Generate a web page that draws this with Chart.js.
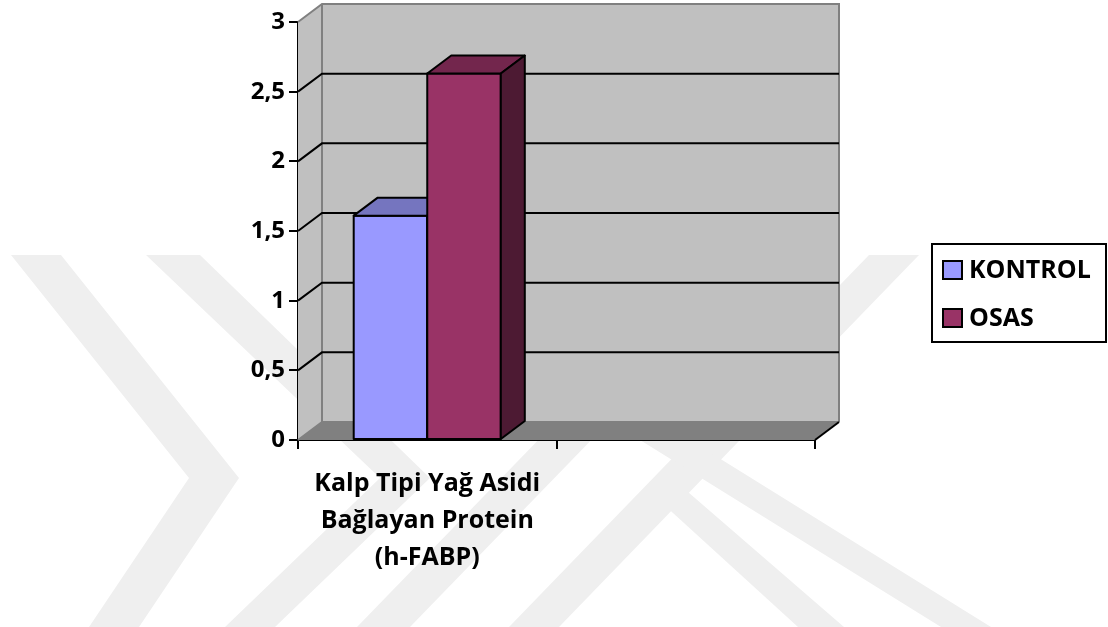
<!DOCTYPE html>
<html>
<head>
<meta charset="utf-8">
<script src="https://cdn.jsdelivr.net/npm/chart.js@4.4.1/dist/chart.umd.min.js"></script>
<style>
  html, body { margin: 0; padding: 0; background: #ffffff; }
  #wrap { width: 1108px; height: 627px; position: relative; }
  canvas { display: block; }
</style>
</head>
<body>
<div id="wrap"><canvas id="chart" width="1108" height="627"></canvas></div>
<script>
// Categories (second slot is an empty category on the axis)
const categories = [['Kalp Tipi Yağ Asidi', 'Bağlayan Protein', '(h-FABP)'], ''];
const seriesNames = ['KONTROL', 'OSAS'];
const kontrolValues = [1.61, null];
const osasValues = [2.63, null];
const yTickValues = [0, 0.5, 1, 1.5, 2, 2.5, 3];

const FONT = '"Open Sans", "Noto Sans", sans-serif';
const DEPTH = { dx: 24, dy: -18 };

// Faint background emblem made of diagonal bands
const emblem = {
  id: 'emblem',
  beforeDraw(chart) {
    const ctx = chart.ctx;
    const bands = [
      [[11,255],[61,255],[239,478],[139,627],[89,627],[189,478]],
      [[146,255],[200,255],[430,478],[275,627],[225,627],[380,478]],
      [[357,627],[410,627],[790,235],[737,235]],
      [[509,627],[559,627],[919,255],[869,255]],
      [[640,440],[690,440],[991,627],[941,627]],
      [[650,492],[688,492],[844,627],[798,627]]
    ];
    ctx.save();
    ctx.fillStyle = '#efefef';
    bands.forEach(b => {
      ctx.beginPath();
      b.forEach((p, i) => i ? ctx.lineTo(p[0], p[1]) : ctx.moveTo(p[0], p[1]));
      ctx.closePath();
      ctx.fill();
    });
    ctx.restore();
  }
};

function poly(ctx, pts) {
  ctx.beginPath();
  pts.forEach((p, i) => i ? ctx.lineTo(p[0], p[1]) : ctx.moveTo(p[0], p[1]));
  ctx.closePath();
}

// Side wall, back wall, floor, gridlines and the 3D faces of the bars
const frame3d = {
  id: 'frame3d',
  beforeDatasetsDraw(chart) {
    const { ctx, chartArea: { left, right, top, bottom }, scales: { y } } = chart;
    const { dx, dy } = DEPTH;
    ctx.save();
    ctx.fillStyle = '#c0c0c0';
    poly(ctx, [[left, bottom], [left + dx, bottom + dy], [left + dx, top + dy], [left, top]]);
    ctx.fill();
    ctx.fillRect(left + dx, top + dy, right - left, bottom - top);
    ctx.fillStyle = '#808080';
    poly(ctx, [[left, bottom], [right, bottom], [right + dx, bottom + dy], [left + dx, bottom + dy]]);
    ctx.fill();

    // frame edges
    ctx.strokeStyle = '#808080';
    ctx.lineWidth = 2;
    ctx.beginPath();
    ctx.moveTo(left, top); ctx.lineTo(left + dx, top + dy);
    ctx.lineTo(right + dx, top + dy); ctx.lineTo(right + dx, bottom + dy);
    ctx.moveTo(left + dx, top + dy); ctx.lineTo(left + dx, bottom + dy);
    ctx.lineTo(right + dx, bottom + dy);
    ctx.moveTo(left, bottom); ctx.lineTo(left + dx, bottom + dy);
    ctx.stroke();

    // gridlines on side and back walls
    ctx.strokeStyle = '#000000';
    ctx.lineWidth = 2;
    y.ticks.forEach(t => {
      if (t.value <= y.min || t.value >= y.max) return;
      const yy = y.getPixelForValue(t.value);
      ctx.beginPath();
      ctx.moveTo(left, yy);
      ctx.lineTo(left + dx, yy + dy);
      ctx.lineTo(right + dx, yy + dy);
      ctx.stroke();
    });

    // right edge of the floor
    ctx.beginPath();
    ctx.moveTo(right, bottom);
    ctx.lineTo(right + dx, bottom + dy);
    ctx.stroke();
    ctx.restore();
  },
  afterDatasetsDraw(chart) {
    const { ctx } = chart;
    const { dx, dy } = DEPTH;
    ctx.save();
    ctx.strokeStyle = '#000000';
    ctx.lineWidth = 2;
    ctx.lineJoin = 'round';
    // left to right so that each front face covers the previous bar's depth
    chart.data.datasets.forEach((ds, di) => {
      const meta = chart.getDatasetMeta(di);
      meta.data.forEach((bar, i) => {
        if (ds.data[i] == null) return;
        const { x, y, base, width } = bar.getProps(['x', 'y', 'base', 'width'], true);
        const l = x - width / 2, r = x + width / 2;
        ctx.fillStyle = ds.backgroundColor;
        ctx.fillRect(l, y, width, base - y);
        ctx.strokeRect(l, y, width, base - y);
        ctx.fillStyle = ds.topColor;
        poly(ctx, [[l, y], [r, y], [r + dx, y + dy], [l + dx, y + dy]]);
        ctx.fill(); ctx.stroke();
        ctx.fillStyle = ds.sideColor;
        poly(ctx, [[r, y], [r + dx, y + dy], [r + dx, base + dy], [r, base]]);
        ctx.fill(); ctx.stroke();
      });
    });
    ctx.restore();
  }
};

// Boxed legend on the right
const boxedLegend = {
  id: 'boxedLegend',
  afterDraw(chart) {
    const { ctx } = chart;
    const bx = 932, by = 244, bw = 174, bh = 98;
    ctx.save();
    ctx.fillStyle = '#ffffff';
    ctx.fillRect(bx, by, bw, bh);
    ctx.strokeStyle = '#000000';
    ctx.lineWidth = 2;
    ctx.strokeRect(bx, by, bw, bh);
    ctx.font = 'bold 25px ' + FONT;
    ctx.textBaseline = 'middle';
    chart.data.datasets.forEach((ds, i) => {
      const cy = 270 + i * 48;
      ctx.fillStyle = ds.backgroundColor;
      ctx.fillRect(943, cy - 9, 19, 18);
      ctx.strokeRect(943, cy - 9, 19, 18);
      ctx.fillStyle = '#000000';
      ctx.fillText(ds.label, 969, cy + 1);
    });
    ctx.restore();
  }
};

function build() {
  new Chart(document.getElementById('chart'), {
    type: 'bar',
    data: {
      labels: categories,
      datasets: [
        {
          label: seriesNames[0],
          data: kontrolValues,
          backgroundColor: '#9999ff',
          topColor: '#7575bf',
          sideColor: '#4d4d80',
          borderWidth: 0
        },
        {
          label: seriesNames[1],
          data: osasValues,
          backgroundColor: '#993366',
          topColor: '#73264d',
          sideColor: '#4d1a33',
          borderWidth: 0
        }
      ]
    },
    options: {
      responsive: false,
      devicePixelRatio: 1,
      animation: false,
      layout: { padding: { left: 0, top: 22, right: 293, bottom: 0 } },
      categoryPercentage: 0.569,
      barPercentage: 1,
      plugins: {
        legend: { display: false },
        tooltip: { enabled: false }
      },
      scales: {
        x: {
          offset: true,
          grid: {
            offset: true,
            drawOnChartArea: false,
            drawTicks: true,
            tickLength: 9,
            color: '#000000',
            lineWidth: 2
          },
          border: { display: true, color: '#000000', width: 2 },
          ticks: {
            color: '#000000',
            font: { family: FONT, size: 25, weight: 'bold', lineHeight: '37px' },
            padding: 16,
            maxRotation: 0,
            autoSkip: false
          },
          afterFit(scale) { scale.height = 187; }
        },
        y: {
          min: 0,
          max: 3,
          afterBuildTicks(scale) { scale.ticks = yTickValues.map(v => ({ value: v })); },
          grid: {
            drawOnChartArea: false,
            drawTicks: true,
            tickLength: 9,
            color: '#000000',
            lineWidth: 2
          },
          border: { display: true, color: '#000000', width: 2 },
          ticks: {
            color: '#000000',
            font: { family: FONT, size: 24, weight: 'bold' },
            padding: 4,
            callback: v => String(v).replace('.', ',')
          },
          afterFit(scale) { scale.width = 298; }
        }
      }
    },
    plugins: [emblem, frame3d, boxedLegend]
  });
}

if (document.fonts && document.fonts.load) {
  document.fonts.load('bold 24px "Open Sans"').then(build, build);
} else {
  build();
}
</script>
</body>
</html>
